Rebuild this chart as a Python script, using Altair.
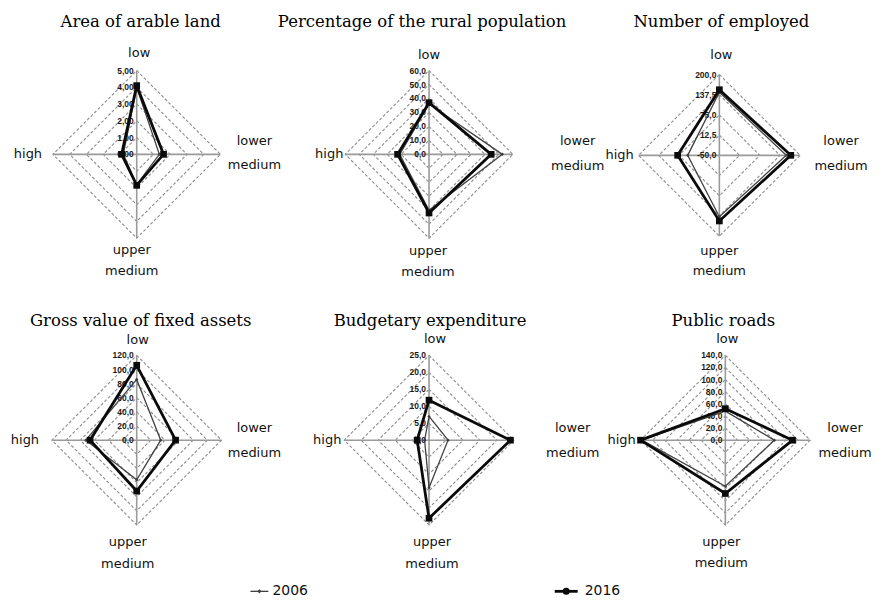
import altair as alt
import pandas as pd

# ---------------- data ----------------
categories = ["low", "lower medium", "upper medium", "high"]
years = ["2006", "2016"]
titles = [
    "Area of arable land",
    "Percentage of the rural population",
    "Number of employed",
    "Gross value of fixed assets",
    "Budgetary expenditure",
    "Public roads",
]
# values in order: low, lower medium, upper medium, high
values_2006 = [
    [4.0, 1.35, 1.8, 0.8],
    [36.0, 52.5, 40.0, 21.0],
    [145.0, 157.0, 140.0, 48.0],
    [86.0, 34.0, 56.0, 72.0],
    [7.0, 5.6, 14.0, 1.3],
    [48.0, 81.0, 76.0, 138.0],
]
values_2016 = [
    [4.1, 1.6, 1.85, 0.9],
    [37.0, 44.5, 42.0, 22.5],
    [153.0, 171.0, 153.0, 79.0],
    [106.0, 55.0, 72.0, 66.0],
    [11.8, 24.0, 23.0, 3.5],
    [52.0, 111.0, 88.0, 140.0],
]
axis_min = [0, 0, -50, 0, 0, 0]
axis_max = [5, 60, 200, 120, 25, 140]
tick_labels = [
    ["0,00", "1,00", "2,00", "3,00", "4,00", "5,00"],
    ["0,0", "10,0", "20,0", "30,0", "40,0", "50,0", "60,0"],
    ["-50,0", "12,5", "75,0", "137,5", "200,0"],
    ["0,0", "20,0", "40,0", "60,0", "80,0", "100,0", "120,0"],
    ["0,0", "5,0", "10,0", "15,0", "20,0", "25,0"],
    ["0,0", "20,0", "40,0", "60,0", "80,0", "100,0", "120,0", "140,0"],
]

# ---------------- layout (pixels) ----------------
DIRS = [(0, 1), (1, 0), (0, -1), (-1, 0)]
LAYOUT = [
    dict(w=293, h=276, cx=128, cy=145, R=84, t=(4, 133), low=(2.5, 102), high=(-109, 0), lm=(118, 13, -11), um=(-5, -96, -117)),
    dict(w=291, h=276, cx=128, cy=145, R=84, t=(-7, 133), low=(0, 100), high=(-100, 0), lm=(149, 13, -12), um=(-1, -97, -118)),
    dict(w=282, h=276, cx=128, cy=146, R=81, t=(2, 134), low=(2, 101), high=(-100, 0), lm=(122, 14, -11), um=(0, -96, -116)),
    dict(w=293, h=284, cx=128, cy=153.5, R=85, t=(4, 119.5), low=(1, 100), high=(-112, 0), lm=(118, 12.5, -12.5), um=(-9, -102.5, -124)),
    dict(w=291, h=284, cx=128, cy=153.5, R=85, t=(1, 119.5), low=(6, 101.5), high=(-102, 0), lm=(144, 12.5, -12.5), um=(3, -102.5, -124)),
    dict(w=282, h=284, cx=134, cy=153.5, R=85, t=(-2, 119.5), low=(2, 101.5), high=(-104, 0), lm=(120, 12.5, -12.5), um=(-4, -102, -123)),
]

LABEL_FONT = "DejaVu Sans"
TITLE_FONT = "DejaVu Serif"


def panel(i):
    L = LAYOUT[i]
    R = L["R"]
    vmin, vmax = axis_min[i], axis_max[i]
    labels = tick_labels[i]
    n = len(labels) - 1
    xs = alt.Scale(domain=[-L["cx"], L["w"] - L["cx"]], nice=False, zero=False)
    ys = alt.Scale(domain=[-(L["h"] - L["cy"]), L["cy"]], nice=False, zero=False)

    def X(f):
        return alt.X(f, type="quantitative", scale=xs, axis=None)

    def Y(f):
        return alt.Y(f, type="quantitative", scale=ys, axis=None)

    # grid rings
    ring_rows = []
    for k in range(1, n + 1):
        for j in range(5):
            dx, dy = DIRS[j % 4]
            ring_rows.append(dict(ring=k, ord=j, x=dx * R * k / n, y=dy * R * k / n))
    rings = alt.Chart(pd.DataFrame(ring_rows)).mark_line(
        color="#8c8c8c", strokeWidth=1.1, strokeDash=[3, 2]
    ).encode(x=X("x"), y=Y("y"), detail="ring:N", order="ord:Q")

    # spokes
    spoke_rows = [dict(x0=0, y0=0, x1=dx * R, y1=dy * R) for dx, dy in DIRS]
    spokes = alt.Chart(pd.DataFrame(spoke_rows)).mark_rule(
        color="#9a9a9a", strokeWidth=1.6
    ).encode(x=X("x0"), y=Y("y0"), x2="x1:Q", y2="y1:Q")

    # tick labels
    tick_rows = [dict(x=-3, y=R * k / n, label=labels[k]) for k in range(n + 1)]
    ticks = alt.Chart(pd.DataFrame(tick_rows)).mark_text(
        align="right", baseline="middle", fontSize=8.5, fontWeight="bold",
        font="Liberation Sans", color="#1a1a1a"
    ).encode(x=X("x"), y=Y("y"), text="label:N")

    # series
    ser_rows = []
    for year, vals in zip(years, [values_2006[i], values_2016[i]]):
        for j in range(5):
            v = vals[j % 4]
            frac = (v - vmin) / (vmax - vmin)
            dx, dy = DIRS[j % 4]
            ser_rows.append(dict(year=year, ord=j, cat=categories[j % 4], value=v,
                                 x=dx * R * frac, y=dy * R * frac))
    sdf = pd.DataFrame(ser_rows)
    base = alt.Chart(sdf)
    line06 = base.transform_filter(alt.datum.year == "2006").mark_line(
        color="#404040", strokeWidth=1.3
    ).encode(x=X("x"), y=Y("y"), order="ord:Q")
    line16 = base.transform_filter(alt.datum.year == "2016").mark_line(
        color="#0a0a0a", strokeWidth=2.8
    ).encode(x=X("x"), y=Y("y"), order="ord:Q")
    pts06 = base.transform_filter((alt.datum.year == "2006") & (alt.datum.ord < 4)).mark_point(
        shape="diamond", filled=True, size=12, color="#404040", opacity=1
    ).encode(x=X("x"), y=Y("y"))
    pts16 = base.transform_filter((alt.datum.year == "2016") & (alt.datum.ord < 4)).mark_point(
        shape="square", filled=True, size=45, color="#0a0a0a", opacity=1
    ).encode(x=X("x"), y=Y("y"))

    # category labels
    lab_rows = [
        dict(x=L["low"][0], y=L["low"][1], text=categories[0]),
        dict(x=L["lm"][0], y=L["lm"][1], text=categories[1].split(" ")[0]),
        dict(x=L["lm"][0], y=L["lm"][2], text=categories[1].split(" ")[1]),
        dict(x=L["um"][0], y=L["um"][1], text=categories[2].split(" ")[0]),
        dict(x=L["um"][0], y=L["um"][2], text=categories[2].split(" ")[1]),
        dict(x=L["high"][0], y=L["high"][1], text=categories[3]),
    ]
    cats = alt.Chart(pd.DataFrame(lab_rows)).mark_text(
        align="center", baseline="middle", fontSize=13, font=LABEL_FONT, color="#111111"
    ).encode(x=X("x"), y=Y("y"), text="text:N")

    title = alt.Chart(pd.DataFrame([dict(x=L["t"][0], y=L["t"][1], text=titles[i])])).mark_text(
        align="center", baseline="middle", fontSize=16.5, font=TITLE_FONT, color="#000000"
    ).encode(x=X("x"), y=Y("y"), text="text:N")

    return alt.layer(rings, spokes, ticks, line06, line16, pts06, pts16, cats, title).properties(
        width=L["w"], height=L["h"]
    )


panels = [panel(i) for i in range(6)]

# legend row
LW, LH = 866, 24
lxs = alt.Scale(domain=[0, LW], nice=False, zero=False)
lys = alt.Scale(domain=[0, LH], nice=False, zero=False, reverse=True)
leg_lines = pd.DataFrame([
    dict(year=years[0], x0=242, x1=260, y=19),
    dict(year=years[1], x0=547, x1=570, y=19),
])
leg_pts = pd.DataFrame([
    dict(year=years[0], x=251, y=19),
    dict(year=years[1], x=558.5, y=19),
])
leg_text = pd.DataFrame([
    dict(year=years[0], x=264, y=19),
    dict(year=years[1], x=577, y=19),
])
lx = lambda f: alt.X(f, type="quantitative", scale=lxs, axis=None)
ly = lambda f: alt.Y(f, type="quantitative", scale=lys, axis=None)
leg_l06 = alt.Chart(leg_lines).transform_filter(alt.datum.year == "2006").mark_rule(
    color="#404040", strokeWidth=1.3).encode(x=lx("x0"), x2="x1:Q", y=ly("y"))
leg_l16 = alt.Chart(leg_lines).transform_filter(alt.datum.year == "2016").mark_rule(
    color="#0a0a0a", strokeWidth=2.8).encode(x=lx("x0"), x2="x1:Q", y=ly("y"))
leg_p06 = alt.Chart(leg_pts).transform_filter(alt.datum.year == "2006").mark_point(
    shape="diamond", filled=True, size=18, color="#404040", opacity=1).encode(x=lx("x"), y=ly("y"))
leg_p16 = alt.Chart(leg_pts).transform_filter(alt.datum.year == "2016").mark_point(
    shape="circle", filled=True, size=50, color="#0a0a0a", opacity=1).encode(x=lx("x"), y=ly("y"))
leg_t = alt.Chart(leg_text).mark_text(
    align="left", baseline="middle", fontSize=14, font=LABEL_FONT, color="#111111"
).encode(x=lx("x"), y=ly("y"), text="year:N")
legend = alt.layer(leg_l06, leg_l16, leg_p06, leg_p16, leg_t).properties(width=LW, height=LH)

row1 = alt.hconcat(*panels[:3], spacing=0, bounds="flush")
row2 = alt.hconcat(*panels[3:], spacing=0, bounds="flush")
chart = alt.vconcat(row1, row2, legend, spacing=0).properties(
    padding=0, background="white"
).configure_view(stroke="transparent")

chart.save("out.html", embed_options={"renderer": "svg", "actions": False})
